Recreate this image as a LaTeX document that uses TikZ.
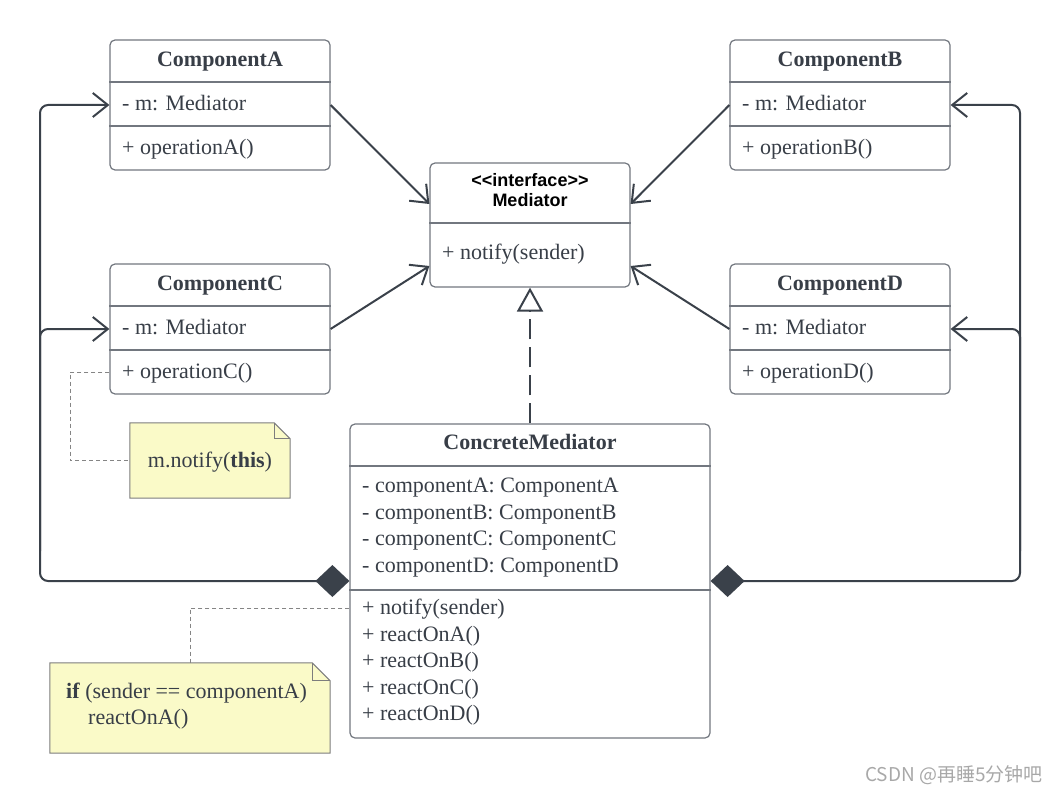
\documentclass[tikz,border=0pt]{standalone}
\usepackage{fontspec}
\setmainfont{Liberation Serif}
\newfontfamily\hdrfont{Liberation Sans}
\newfontfamily\cjk{Noto Sans CJK SC}
\usetikzlibrary{arrows.meta}
\definecolor{linedark}{HTML}{3A414A}
\definecolor{boxgray}{HTML}{72777F}
\definecolor{textdark}{HTML}{383E47}
\definecolor{notefill}{HTML}{FAFAC8}
\definecolor{notegray}{HTML}{7D7D7D}
\definecolor{linkgray}{HTML}{858585}
\definecolor{wmgray}{HTML}{A8A8A8}

\begin{document}
\begin{tikzpicture}[x=1pt,y=-1pt,
  classbox/.style={draw=boxgray,line width=1.2pt,rounded corners=5pt,fill=white,inner sep=0pt},
  classname/.style={font=\fontsize{22}{26}\selectfont\bfseries,text=textdark,inner sep=0pt,text height=16pt,text depth=3pt},
  member/.style={font=\fontsize{22}{26}\selectfont,text=textdark,inner sep=0pt,anchor=west,text height=16pt,text depth=3pt},
  stereo/.style={font=\hdrfont\fontsize{18}{21}\selectfont\bfseries,text=black,inner sep=0pt,text height=13pt,text depth=3pt},
  divider/.style={draw=boxgray,line width=1.2pt},
  assoc/.style={draw=linedark,line width=2pt,-{Straight Barb[length=15pt,width=24pt]}},
  compose/.style={assoc,rounded corners=8pt,{Diamond[length=34pt,width=32pt]}-{Straight Barb[length=15pt,width=24pt]}},
  realize/.style={draw=linedark,line width=2pt,dash pattern=on 20pt off 8pt,-{Triangle[open,length=24pt,width=26pt]}},
  notebox/.style={inner sep=0pt},
  noteshape/.style={draw=notegray,fill=notefill,line width=1pt},
  notelink/.style={draw=linkgray,line width=1pt,dash pattern=on 4pt off 3pt},
]
\useasboundingbox (0,0) rectangle (1060,794);

\node[classbox,minimum width=220pt,minimum height=130pt] (compA) at (220,105) {};
\draw[divider] (compA.west |- 0,82) -- (compA.east |- 0,82);
\draw[divider] (compA.west |- 0,126) -- (compA.east |- 0,126);
\node[classname] (compAname) at (220,60) {ComponentA};
\node[member] (compAattr) at (122,104) {- m: Mediator};
\node[member] (compAop) at (122,148) {+ operationA()};

\node[classbox,minimum width=220pt,minimum height=130pt] (compB) at (840,105) {};
\draw[divider] (compB.west |- 0,82) -- (compB.east |- 0,82);
\draw[divider] (compB.west |- 0,126) -- (compB.east |- 0,126);
\node[classname] (compBname) at (840,60) {ComponentB};
\node[member] (compBattr) at (742,104) {- m: Mediator};
\node[member] (compBop) at (742,148) {+ operationB()};

\node[classbox,minimum width=220pt,minimum height=130pt] (compC) at (220,329) {};
\draw[divider] (compC.west |- 0,306) -- (compC.east |- 0,306);
\draw[divider] (compC.west |- 0,350) -- (compC.east |- 0,350);
\node[classname] (compCname) at (220,284) {ComponentC};
\node[member] (compCattr) at (122,328) {- m: Mediator};
\node[member] (compCop) at (122,372) {+ operationC()};

\node[classbox,minimum width=220pt,minimum height=130pt] (compD) at (840,329) {};
\draw[divider] (compD.west |- 0,306) -- (compD.east |- 0,306);
\draw[divider] (compD.west |- 0,350) -- (compD.east |- 0,350);
\node[classname] (compDname) at (840,284) {ComponentD};
\node[member] (compDattr) at (742,328) {- m: Mediator};
\node[member] (compDop) at (742,372) {+ operationD()};

\node[classbox,minimum width=200pt,minimum height=124pt] (med) at (530,225) {};
\draw[divider] (med.west |- 0,223) -- (med.east |- 0,223);
\node[stereo] (medStereo) at (530,182) {<\kern0pt<interface>\kern0pt>};
\node[stereo] (medName) at (530,202) {Mediator};
\node[member] (medNotify) at (442,253) {+ notify(sender)};

\node[classbox,minimum width=360pt,minimum height=314pt] (cm) at (530,581) {};
\draw[divider] (cm.west |- 0,466) -- (cm.east |- 0,466);
\draw[divider] (cm.west |- 0,590) -- (cm.east |- 0,590);
\node[classname] (cmName) at (530,443) {ConcreteMediator};
\node[member] (cmA) at (362,486) {- componentA: ComponentA};
\node[member] (cmB) at (362,512.5) {- componentB: ComponentB};
\node[member] (cmC) at (362,539) {- componentC: ComponentC};
\node[member] (cmD) at (362,565.5) {- componentD: ComponentD};
\node[member] (cmNotify) at (362,608) {+ notify(sender)};
\node[member] (cmReactA) at (362,634.5) {+ reactOnA()};
\node[member] (cmReactB) at (362,661) {+ reactOnB()};
\node[member] (cmReactC) at (362,687.5) {+ reactOnC()};
\node[member] (cmReactD) at (362,714) {+ reactOnD()};

\node[notebox,minimum width=160pt,minimum height=75pt] (noteC) at (210,460.5) {};
\filldraw[noteshape] (noteC.north west) -- ([xshift=-16pt]noteC.north east) -- ([yshift=-16pt]noteC.north east) -- (noteC.south east) -- (noteC.south west) -- cycle;
\draw[noteshape,fill=none] ([xshift=-16pt]noteC.north east) |- ([yshift=-16pt]noteC.north east);
\node[member,anchor=center] (noteCtext) at (noteC) {m.notify(\textbf{this})};

\node[notebox,minimum width=280pt,minimum height=90pt] (noteR) at (190,708) {};
\filldraw[noteshape] (noteR.north west) -- ([xshift=-18pt]noteR.north east) -- ([yshift=-18pt]noteR.north east) -- (noteR.south east) -- (noteR.south west) -- cycle;
\draw[noteshape,fill=none] ([xshift=-18pt]noteR.north east) |- ([yshift=-18pt]noteR.north east);
\node[member] (noteRif) at (66,692) {\textbf{if} (sender == componentA)};
\node[member] (noteRcall) at (88,718) {reactOnA()};

\coordinate (railL) at (40,0);
\coordinate (railR) at (1020,0);

\draw[assoc] (compA.east) -- ([yshift=21pt]med.west);
\draw[assoc] (compC.east) -- ([yshift=-41pt]med.west);
\draw[assoc] (compB.west) -- ([yshift=21pt]med.east);
\draw[assoc] (compD.west) -- ([yshift=-41pt]med.east);
\draw[realize] (cm.north) -- (med.south);

\draw[compose] (cm.west) -| (compA.west -| railL) -- (compA.west);
\draw[assoc,rounded corners=8pt] ([yshift=30pt]railL |- cm.west) |- (compC.west);
\draw[compose] (cm.east) -| (compB.east -| railR) -- (compB.east);
\draw[assoc,rounded corners=8pt] ([yshift=30pt]railR |- cm.east) |- (compD.east);

\draw[notelink] (compCop.west -| compC.west) -| (noteC.west -| 70,0) -- (noteC.west);
\draw[notelink] (cmNotify.west -| cm.west) -| (noteR.north);

\node[font=\cjk\fontsize{19}{22}\selectfont,text=wmgray,anchor=east,inner sep=0pt] (wm) at (1043,775) {CSDN @再睡5分钟吧};
\end{tikzpicture}
\end{document}
